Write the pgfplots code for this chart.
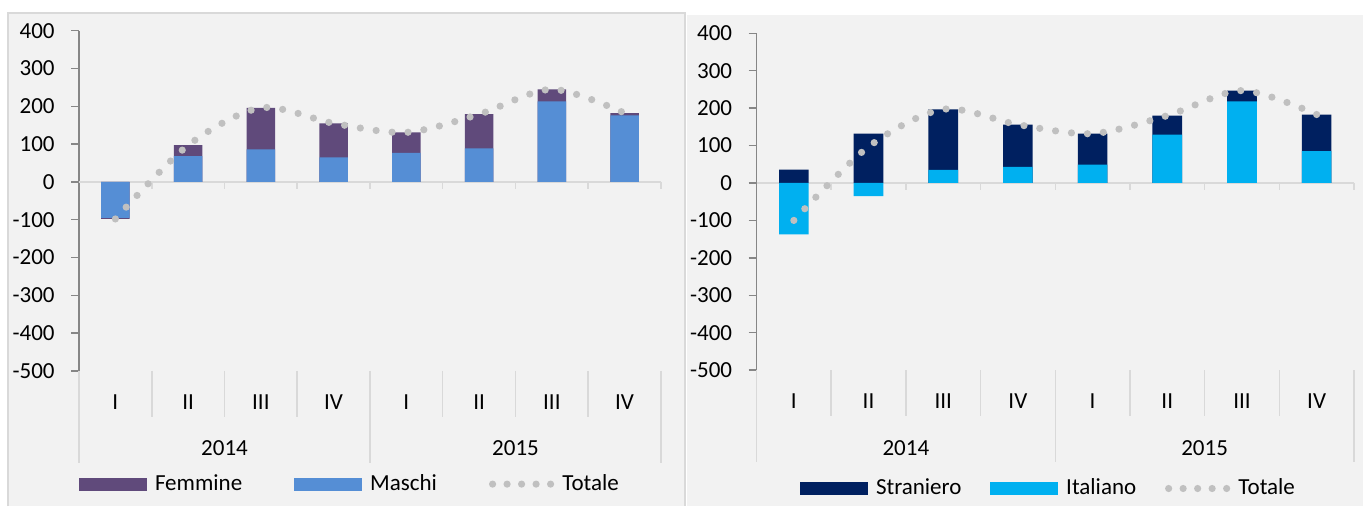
\documentclass[border=0pt]{standalone}
\usepackage{fontspec}
\setmainfont{Carlito}
\usepackage{pgfplots}
\pgfplotsset{compat=1.18}
\definecolor{bg}{HTML}{F2F2F2}
\definecolor{panelborder}{HTML}{D9D9D9}
\definecolor{sepc}{HTML}{D9D9D9}
\definecolor{axgray}{HTML}{868686}
\definecolor{fem}{HTML}{604A7B}
\definecolor{mas}{HTML}{558ED5}
\definecolor{stra}{HTML}{002060}
\definecolor{ita}{HTML}{00B0F0}
\definecolor{tot}{HTML}{C0C0C0}

\newcommand{\chartfont}{\fontsize{11.5}{13.8}\selectfont}

\pgfplotsset{
  panel/.style={
    scale only axis, clip=false,
    xmin=0, xmax=8, ymin=-500, ymax=400,
    axis y line*=left, axis x line*=bottom,
    x axis line style={draw=none},
    y axis line style={draw=axgray, line width=0.75pt},
    xtick={0.5,1.5,2.5,3.5,4.5,5.5,6.5,7.5},
    xticklabels={I,II,III,IV,I,II,III,IV},
    xtick style={draw=none},
    xticklabel style={anchor=center, inner sep=0pt, yshift=-11.5pt},
    extra x ticks={2,6}, extra x tick labels={2014,2015},
    extra x tick style={xticklabel style={yshift=-23.3pt}},
    ytick={-500,-400,-300,-200,-100,0,100,200,300,400},
    yticklabels={-500,-400,-300,-200,-100,0,100,200,300,400},
    ytick style={draw=axgray, line width=0.75pt},
    tick align=outside, major tick length=4pt,
    every y tick label/.style={anchor=east, inner sep=0pt, xshift=-8pt},
    font=\chartfont,
    legend columns=3,
    legend cell align=left,
    legend style={draw=none, fill=none, inner sep=0pt, outer sep=0pt,
      font=\chartfont, nodes={inner sep=0pt}},
  },
  barleg/.style={legend image code/.code={\fill[#1] (0pt,-3.25pt) rectangle (34pt,3.25pt);}},
  totleg/.style={legend image code/.code={\draw[tot, line width=3.6pt, line cap=round, dash pattern=on 0pt off 7.25pt] (0pt,0pt) -- (29.1pt,0pt);}},
  totline/.style={smooth, tot, line width=3.6pt, line cap=round, dash pattern=on 0pt off 8pt, no markers},
}

\begin{document}
\begin{tikzpicture}
\path (0pt,0pt) rectangle (685pt,253pt);
% panels
\fill[bg] (4pt,0pt) rectangle (342.5pt,246.5pt);
\fill[bg] (343.5pt,0pt) rectangle (681.5pt,245.5pt);
\draw[panelborder, line width=0.75pt] (4pt,0pt) -- (4pt,246.5pt) -- (342.5pt,246.5pt) -- (342.5pt,0pt);

% ---------------- left panel ----------------
\begin{axis}[panel,
  at={(39.5pt,67.55pt)}, anchor=south west,
  width=291pt, height=170.1pt,
  legend style={at={(axis description cs:0,0)}, anchor=west, yshift=-56.6pt,
    /tikz/every odd column/.append style={column sep=4pt},
    /tikz/every even column/.append style={column sep=26pt}},
]
\draw[sepc, line width=0.75pt] (axis cs:0,0) -- (axis cs:8,0);
\pgfplotsinvokeforeach{1,2,3,4,5,6,7,8}{\draw[sepc, line width=0.75pt] (axis cs:#1,0) -- ++(0pt,-3.5pt);}
\pgfplotsinvokeforeach{1,2,3,5,6,7}{\draw[sepc, line width=0.75pt] (axis cs:#1,-500) -- ++(0pt,-23pt);}
\pgfplotsinvokeforeach{0,4,8}{\draw[sepc, line width=0.75pt] (axis cs:#1,-500) -- ++(0pt,-46pt);}
% Femmine: top edge of the stack (Maschi + Femmine)
\addplot[ybar, bar width=14.3pt, bar shift=0pt, fill=fem, draw=none, barleg=fem]
  coordinates {(0.5,-98) (1.5,97) (2.5,196) (3.5,155) (4.5,131) (5.5,179) (6.5,245) (7.5,182)};
\addlegendentry{Femmine}
\addplot[ybar, bar width=14.3pt, bar shift=0pt, fill=mas, draw=none, barleg=mas]
  coordinates {(0.5,-95) (1.5,68) (2.5,86) (3.5,65) (4.5,77) (5.5,89) (6.5,213) (7.5,176)};
\addlegendentry{Maschi}
\addplot[totline, totleg]
  coordinates {(0.5,-98) (1.5,97) (2.5,196) (3.5,155) (4.5,131) (5.5,179) (6.5,245) (7.5,182)};
\addlegendentry{Totale}
\end{axis}

% ---------------- right panel ----------------
\begin{axis}[panel,
  at={(378.25pt,67.95pt)}, anchor=south west,
  width=298.75pt, height=168.4pt,
  legend style={at={(axis description cs:0,0)}, anchor=west, xshift=21.75pt, yshift=-59.2pt,
    /tikz/every odd column/.append style={column sep=4pt},
    /tikz/every even column/.append style={column sep=14.4pt}},
]
\draw[sepc, line width=0.75pt] (axis cs:0,0) -- (axis cs:8,0);
\pgfplotsinvokeforeach{1,2,3,4,5,6,7,8}{\draw[sepc, line width=0.75pt] (axis cs:#1,0) -- ++(0pt,-3.5pt);}
\pgfplotsinvokeforeach{1,2,3,5,6,7}{\draw[sepc, line width=0.75pt] (axis cs:#1,-500) -- ++(0pt,-23pt);}
\pgfplotsinvokeforeach{0,4,8}{\draw[sepc, line width=0.75pt] (axis cs:#1,-500) -- ++(0pt,-46pt);}
% Straniero: top edge of the positive part of the stack
\addplot[ybar, bar width=14.8pt, bar shift=0pt, fill=stra, draw=none, barleg=stra]
  coordinates {(0.5,36) (1.5,132) (2.5,197) (3.5,156) (4.5,132) (5.5,180) (6.5,247) (7.5,183)};
\addlegendentry{Straniero}
\addplot[ybar, bar width=14.8pt, bar shift=0pt, fill=ita, draw=none, barleg=ita]
  coordinates {(0.5,-137) (1.5,-35) (2.5,35) (3.5,43) (4.5,49) (5.5,129) (6.5,218) (7.5,85)};
\addlegendentry{Italiano}
\addplot[totline, totleg]
  coordinates {(0.5,-100) (1.5,97) (2.5,197) (3.5,156) (4.5,132) (5.5,180) (6.5,247) (7.5,183)};
\addlegendentry{Totale}
\end{axis}
\end{tikzpicture}
\end{document}
